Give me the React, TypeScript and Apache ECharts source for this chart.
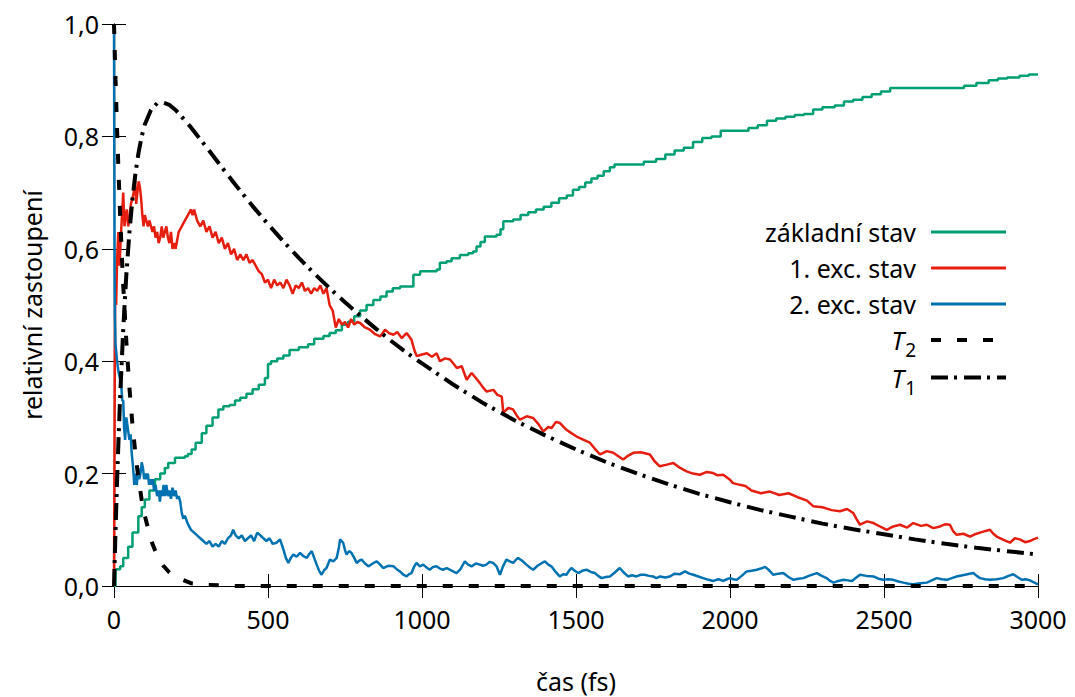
import React, { useEffect, useRef } from 'react';
import * as echarts from 'echarts';

const FONT = "'Noto Sans', 'Open Sans', sans-serif";

const xTicks = { min: 0, max: 3000, interval: 500 };
const yTicks = { min: 0, max: 1, interval: 0.2 };

const seriesNames = ['základní stav', '1. exc. stav', '2. exc. stav', 'T2', 'T1'];
const seriesColors = ['#009e73', '#e51e10', '#0072b2', '#000000', '#000000'];

const groundState: number[][] = [
  [0, 0], [5, 0.03], [20, 0.035], [30, 0.05], [46, 0.07], [60, 0.095], [79, 0.124], [90, 0.14],
  [100, 0.154], [115, 0.17], [133, 0.19], [150, 0.2], [165, 0.21], [176, 0.219], [198, 0.228],
  [215, 0.228], [230, 0.231], [240, 0.235], [252, 0.243], [265, 0.255], [285, 0.272], [300, 0.285],
  [320, 0.3], [339, 0.314], [355, 0.32], [375, 0.322], [393, 0.33], [410, 0.335], [430, 0.342],
  [450, 0.35], [470, 0.358], [490, 0.37], [500, 0.395], [510, 0.4], [530, 0.405], [550, 0.41],
  [570, 0.42], [600, 0.425], [630, 0.43], [650, 0.44], [680, 0.445], [700, 0.45], [720, 0.455],
  [740, 0.465], [760, 0.47], [780, 0.48], [799, 0.49], [820, 0.5], [842, 0.509], [865, 0.515],
  [885, 0.524], [905, 0.53], [929, 0.533], [961, 0.533], [972, 0.554], [994, 0.56], [1048, 0.563],
  [1058, 0.575], [1080, 0.578], [1096, 0.583], [1123, 0.589], [1150, 0.592], [1166, 0.595],
  [1177, 0.604], [1190, 0.612], [1204, 0.622], [1242, 0.625], [1255, 0.635], [1264, 0.649],
  [1296, 0.652], [1320, 0.66], [1345, 0.665], [1370, 0.67], [1395, 0.675], [1420, 0.682],
  [1445, 0.69], [1470, 0.695], [1490, 0.705], [1510, 0.71], [1530, 0.718], [1550, 0.725],
  [1570, 0.73], [1590, 0.738], [1610, 0.745], [1625, 0.75], [1700, 0.75], [1720, 0.755],
  [1760, 0.76], [1790, 0.768], [1820, 0.775], [1850, 0.78], [1880, 0.79], [1910, 0.797],
  [1940, 0.8], [1970, 0.81], [2040, 0.81], [2060, 0.815], [2090, 0.82], [2120, 0.828],
  [2150, 0.832], [2180, 0.835], [2210, 0.838], [2240, 0.84], [2270, 0.848], [2300, 0.852],
  [2340, 0.855], [2370, 0.862], [2400, 0.865], [2430, 0.87], [2460, 0.875], [2490, 0.88],
  [2520, 0.886], [2750, 0.886], [2760, 0.89], [2800, 0.895], [2840, 0.9], [2870, 0.903],
  [2900, 0.905], [2940, 0.908], [2970, 0.91], [3000, 0.91],
];

const firstExcited: number[][] = [
  [0, 0], [2, 0.3], [4, 0.55], [7, 0.5], [10, 0.58], [14, 0.63], [18, 0.57], [22, 0.62], [26, 0.66],
  [30, 0.7], [34, 0.64], [38, 0.66], [42, 0.67], [46, 0.64], [50, 0.65], [55, 0.68], [60, 0.69],
  [64, 0.7], [68, 0.73], [72, 0.68], [76, 0.7], [80, 0.72], [84, 0.71], [88, 0.69], [92, 0.66],
  [96, 0.64], [100, 0.66], [105, 0.65], [110, 0.64], [115, 0.65], [120, 0.64], [125, 0.63],
  [130, 0.64], [135, 0.62], [140, 0.63], [145, 0.61], [150, 0.62], [155, 0.64], [160, 0.62],
  [165, 0.63], [170, 0.64], [175, 0.62], [180, 0.61], [185, 0.63], [190, 0.6], [195, 0.61],
  [200, 0.6], [210, 0.63], [220, 0.64], [230, 0.65], [240, 0.66], [250, 0.67], [255, 0.66],
  [260, 0.67], [270, 0.65], [280, 0.64], [290, 0.65], [300, 0.63], [310, 0.64], [320, 0.62],
  [330, 0.63], [340, 0.61], [350, 0.62], [360, 0.6], [370, 0.61], [380, 0.59], [390, 0.6],
  [400, 0.58], [410, 0.59], [420, 0.58], [430, 0.59], [440, 0.575], [450, 0.58], [460, 0.57],
  [470, 0.56], [480, 0.555], [490, 0.54], [500, 0.545], [510, 0.53], [520, 0.545], [530, 0.535],
  [540, 0.54], [550, 0.53], [560, 0.545], [570, 0.535], [580, 0.52], [590, 0.535], [600, 0.53],
  [610, 0.54], [620, 0.525], [630, 0.53], [640, 0.52], [650, 0.53], [660, 0.525], [670, 0.535],
  [680, 0.52], [690, 0.53], [700, 0.5], [710, 0.49], [720, 0.46], [730, 0.475], [740, 0.465],
  [750, 0.47], [760, 0.46], [770, 0.475], [780, 0.465], [790, 0.47], [799, 0.468], [815, 0.46],
  [831, 0.456], [848, 0.448], [864, 0.444], [880, 0.456], [893, 0.45], [907, 0.447], [920, 0.452],
  [934, 0.441], [950, 0.45], [966, 0.438], [975, 0.42], [983, 0.409], [1000, 0.412], [1016, 0.414],
  [1032, 0.408], [1048, 0.414], [1058, 0.4], [1075, 0.405], [1091, 0.403], [1103, 0.395],
  [1113, 0.388], [1129, 0.391], [1145, 0.367], [1161, 0.379], [1175, 0.37], [1188, 0.361],
  [1200, 0.352], [1210, 0.346], [1232, 0.349], [1245, 0.34], [1259, 0.337], [1264, 0.308],
  [1280, 0.317], [1296, 0.314], [1308, 0.303], [1318, 0.296], [1340, 0.302], [1361, 0.299],
  [1378, 0.288], [1394, 0.275], [1410, 0.283], [1421, 0.281], [1435, 0.292], [1448, 0.29],
  [1469, 0.278], [1485, 0.272], [1502, 0.266], [1525, 0.26], [1545, 0.255], [1560, 0.245],
  [1578, 0.234], [1600, 0.24], [1621, 0.237], [1640, 0.23], [1653, 0.225], [1670, 0.232],
  [1686, 0.237], [1710, 0.238], [1740, 0.234], [1755, 0.222], [1772, 0.213], [1795, 0.216],
  [1816, 0.219], [1838, 0.21], [1859, 0.204], [1880, 0.2], [1902, 0.198], [1925, 0.203],
  [1945, 0.201], [1960, 0.197], [1978, 0.198], [2000, 0.189], [2010, 0.183], [2032, 0.18],
  [2050, 0.178], [2070, 0.17], [2100, 0.165], [2130, 0.168], [2160, 0.162], [2190, 0.165],
  [2220, 0.158], [2250, 0.152], [2270, 0.142], [2300, 0.14], [2330, 0.135], [2357, 0.133],
  [2380, 0.137], [2400, 0.13], [2410, 0.12], [2422, 0.109], [2445, 0.115], [2466, 0.112],
  [2490, 0.105], [2509, 0.1], [2530, 0.106], [2552, 0.109], [2575, 0.104], [2595, 0.112],
  [2620, 0.107], [2639, 0.109], [2660, 0.103], [2682, 0.106], [2700, 0.11], [2714, 0.109],
  [2725, 0.097], [2736, 0.091], [2758, 0.093], [2779, 0.088], [2795, 0.092], [2812, 0.095],
  [2830, 0.098], [2844, 0.1], [2855, 0.093], [2866, 0.088], [2888, 0.082], [2909, 0.077],
  [2925, 0.085], [2941, 0.083], [2958, 0.078], [2974, 0.08], [2985, 0.083], [3000, 0.086],
];

const secondExcited: number[][] = [
  [0, 1.0], [1, 0.75], [2, 0.55], [3, 0.48], [5, 0.43], [10, 0.4], [15, 0.38], [19, 0.37], [23, 0.36],
  [27, 0.33], [30, 0.33], [33, 0.28], [36, 0.26], [40, 0.3], [45, 0.28], [50, 0.26], [54, 0.27],
  [57, 0.24], [62, 0.21], [66, 0.18], [70, 0.2], [74, 0.18], [78, 0.21], [82, 0.19], [86, 0.2],
  [90, 0.22], [94, 0.21], [98, 0.19], [102, 0.2], [106, 0.19], [110, 0.2], [114, 0.18], [118, 0.19],
  [122, 0.18], [126, 0.19], [130, 0.17], [135, 0.18], [140, 0.16], [145, 0.17], [149, 0.15],
  [153, 0.17], [157, 0.16], [161, 0.18], [165, 0.16], [170, 0.18], [175, 0.16], [180, 0.17],
  [185, 0.155], [190, 0.175], [195, 0.16], [200, 0.17], [205, 0.155], [210, 0.16], [215, 0.15],
  [220, 0.13], [225, 0.12], [230, 0.125], [240, 0.11], [250, 0.1], [260, 0.095], [270, 0.09],
  [280, 0.085], [290, 0.08], [300, 0.075], [310, 0.08], [320, 0.07], [330, 0.075], [340, 0.07],
  [350, 0.08], [360, 0.075], [370, 0.085], [380, 0.09], [387, 0.1], [395, 0.09], [405, 0.085],
  [415, 0.09], [425, 0.08], [435, 0.085], [445, 0.09], [455, 0.08], [465, 0.095], [475, 0.09],
  [485, 0.085], [495, 0.08], [505, 0.085], [515, 0.075], [528, 0.077], [539, 0.083], [550, 0.065],
  [558, 0.05], [566, 0.041], [574, 0.05], [582, 0.056], [593, 0.052], [604, 0.059], [615, 0.053],
  [626, 0.05], [634, 0.057], [642, 0.062], [650, 0.05], [658, 0.038], [666, 0.027], [674, 0.02],
  [682, 0.028], [690, 0.032], [701, 0.047], [712, 0.044], [723, 0.05], [730, 0.068], [734, 0.083],
  [744, 0.077], [750, 0.064], [755, 0.056], [763, 0.062], [771, 0.059], [780, 0.05], [788, 0.041],
  [796, 0.045], [804, 0.047], [815, 0.04], [826, 0.035], [840, 0.04], [853, 0.044], [864, 0.038],
  [874, 0.032], [890, 0.036], [907, 0.035], [918, 0.03], [928, 0.026], [940, 0.02], [950, 0.017],
  [958, 0.021], [966, 0.023], [975, 0.035], [982, 0.041], [993, 0.035], [1004, 0.038],
  [1015, 0.033], [1025, 0.029], [1036, 0.034], [1047, 0.035], [1058, 0.031], [1069, 0.029],
  [1080, 0.032], [1090, 0.029], [1101, 0.026], [1112, 0.023], [1125, 0.03], [1139, 0.044],
  [1150, 0.038], [1161, 0.035], [1175, 0.04], [1188, 0.038], [1198, 0.036], [1209, 0.038],
  [1220, 0.043], [1231, 0.041], [1242, 0.035], [1253, 0.02], [1263, 0.035], [1274, 0.047],
  [1285, 0.044], [1296, 0.041], [1304, 0.046], [1312, 0.05], [1325, 0.045], [1339, 0.038],
  [1350, 0.033], [1361, 0.029], [1375, 0.036], [1387, 0.04], [1399, 0.044], [1410, 0.038],
  [1420, 0.035], [1434, 0.025], [1447, 0.017], [1458, 0.021], [1469, 0.02], [1477, 0.027],
  [1485, 0.032], [1496, 0.027], [1507, 0.023], [1520, 0.027], [1534, 0.029], [1548, 0.025],
  [1561, 0.023], [1572, 0.018], [1583, 0.014], [1597, 0.016], [1610, 0.017], [1626, 0.024],
  [1642, 0.032], [1655, 0.024], [1669, 0.017], [1682, 0.019], [1696, 0.017], [1710, 0.02],
  [1723, 0.02], [1737, 0.018], [1750, 0.017], [1761, 0.014], [1773, 0.017], [1790, 0.015],
  [1805, 0.017], [1820, 0.022], [1838, 0.021], [1854, 0.026], [1868, 0.022], [1881, 0.02],
  [1897, 0.017], [1913, 0.014], [1930, 0.011], [1946, 0.009], [1962, 0.012], [1978, 0.009],
  [1990, 0.012], [2000, 0.014], [2011, 0.012], [2022, 0.011], [2038, 0.018], [2054, 0.026],
  [2070, 0.027], [2087, 0.029], [2100, 0.031], [2114, 0.034], [2127, 0.028], [2141, 0.02],
  [2157, 0.022], [2173, 0.023], [2190, 0.016], [2206, 0.011], [2222, 0.013], [2238, 0.014],
  [2260, 0.019], [2282, 0.023], [2298, 0.018], [2314, 0.014], [2325, 0.009], [2336, 0.006],
  [2352, 0.009], [2368, 0.011], [2382, 0.01], [2396, 0.009], [2410, 0.015], [2422, 0.02],
  [2444, 0.018], [2466, 0.017], [2482, 0.013], [2498, 0.011], [2514, 0.012], [2530, 0.011],
  [2547, 0.008], [2563, 0.006], [2580, 0.004], [2595, 0.003], [2617, 0.005], [2639, 0.006],
  [2655, 0.01], [2671, 0.014], [2688, 0.012], [2704, 0.011], [2720, 0.014], [2736, 0.017],
  [2763, 0.02], [2790, 0.023], [2801, 0.018], [2812, 0.014], [2828, 0.012], [2844, 0.011],
  [2866, 0.012], [2887, 0.014], [2904, 0.018], [2920, 0.021], [2933, 0.016], [2947, 0.011],
  [2960, 0.012], [2974, 0.01], [2985, 0.007], [3000, 0.003],
];

const fitT2: number[][] = [
  [0, 1.0], [5, 0.901], [10, 0.812], [15, 0.732], [20, 0.659], [25, 0.594], [30, 0.535], [40, 0.435],
  [50, 0.353], [60, 0.287], [70, 0.233], [80, 0.189], [90, 0.153], [100, 0.125], [120, 0.082],
  [140, 0.054], [160, 0.036], [180, 0.024], [200, 0.016], [250, 0.005], [300, 0.002], [350, 0.001],
  [400, 0], [3000, 0],
];

const fitT1: number[][] = [
  [0, 0], [5, 0.099], [10, 0.187], [15, 0.266], [20, 0.337], [30, 0.457], [40, 0.553], [50, 0.629],
  [60, 0.689], [70, 0.736], [80, 0.772], [90, 0.8], [100, 0.821], [120, 0.847], [140, 0.859],
  [160, 0.86], [180, 0.856], [200, 0.847], [250, 0.816], [300, 0.781], [350, 0.745], [400, 0.71],
  [450, 0.676], [500, 0.644], [550, 0.613], [600, 0.584], [650, 0.556], [700, 0.53], [750, 0.505],
  [800, 0.481], [850, 0.458], [900, 0.436], [950, 0.415], [1000, 0.396], [1100, 0.359],
  [1200, 0.325], [1300, 0.295], [1400, 0.268], [1500, 0.243], [1600, 0.22], [1700, 0.2],
  [1800, 0.181], [1900, 0.164], [2000, 0.149], [2100, 0.135], [2200, 0.123], [2300, 0.111],
  [2400, 0.101], [2500, 0.092], [2600, 0.083], [2700, 0.075], [2800, 0.068], [2900, 0.062],
  [3000, 0.056],
];

const xName = 'čas (fs)';
const yName = 'relativní zastoupení';

export default function App() {
  const ref = useRef<HTMLDivElement>(null);
  useEffect(() => {
    const chart = echarts.init(ref.current!, undefined, { renderer: 'svg' });
    const tickStyle = { inside: true, length: 12, lineStyle: { color: '#000', width: 1 } };
    const axisLine = { show: true, lineStyle: { color: '#000', width: 1.2 } };
    const labelStyle = { color: '#000', fontSize: 25, fontFamily: FONT };
    const legendLine = [
      { color: seriesColors[0], width: 3, type: 'solid' },
      { color: seriesColors[1], width: 3, type: 'solid' },
      { color: seriesColors[2], width: 3, type: 'solid' },
      { color: '#000', width: 4, type: [10, 16], cap: 'butt' },
      { color: '#000', width: 4, type: [17, 6, 3, 7], cap: 'butt' },
    ];
    const option: any = {
      animation: false,
      backgroundColor: '#fff',
      grid: { left: 114, right: 37, top: 24, bottom: 111, containLabel: false, outerBoundsMode: 'none' },
      xAxis: [
        {
          type: 'value', position: 'bottom', ...xTicks,
          axisLine, axisTick: tickStyle, splitLine: { show: false },
          axisLabel: { ...labelStyle, margin: 20, formatter: (v: number) => String(v) },
          name: xName, nameLocation: 'middle', nameGap: 82,
          nameTextStyle: { color: '#000', fontSize: 25, fontFamily: FONT },
        },
        {
          type: 'value', position: 'top', ...xTicks,
          axisLine, axisTick: tickStyle, splitLine: { show: false },
          axisLabel: { show: false },
        },
      ],
      yAxis: [
        {
          type: 'value', position: 'left', ...yTicks,
          axisLine, axisTick: tickStyle, splitLine: { show: false },
          axisLabel: { ...labelStyle, margin: 15, formatter: (v: number) => v.toFixed(1).replace('.', ',') },
          name: yName, nameLocation: 'middle', nameGap: 70, nameRotate: 90,
          nameTextStyle: { color: '#000', fontSize: 25, fontFamily: FONT },
        },
        {
          type: 'value', position: 'right', ...yTicks,
          axisLine, axisTick: tickStyle, splitLine: { show: false },
          axisLabel: { show: false },
        },
      ],
      legend: {
        orient: 'vertical',
        right: 62,
        top: 209,
        align: 'right',
        itemWidth: 75,
        itemHeight: 14,
        itemGap: 0,
        itemStyle: { opacity: 0 },
        data: seriesNames.map((n, i) => ({ name: n, lineStyle: legendLine[i] })),
        formatter: (name: string) => {
          if (name === 'T2') return '{i|T}{s|2}';
          if (name === 'T1') return '{i|T}{s|1}';
          return name;
        },
        textStyle: {
          color: '#000', fontSize: 25, fontFamily: FONT, width: 180, align: 'right',
          lineHeight: 36, padding: [0, 10, 0, 0],
          rich: {
            i: { fontStyle: 'italic', fontSize: 25, fontFamily: FONT, color: '#000', lineHeight: 36 },
            s: { fontSize: 19, fontFamily: FONT, color: '#000', padding: [20, 0, 0, 1] },
          },
        },
      },
      series: [
        {
          name: seriesNames[0], type: 'line', data: groundState, step: 'end', showSymbol: false, symbol: 'none',
          lineStyle: { color: seriesColors[0], width: 2.5 }, itemStyle: { color: seriesColors[0] },
        },
        {
          name: seriesNames[1], type: 'line', data: firstExcited, showSymbol: false, symbol: 'none',
          lineStyle: { color: seriesColors[1], width: 2.5 }, itemStyle: { color: seriesColors[1] },
        },
        {
          name: seriesNames[2], type: 'line', data: secondExcited, showSymbol: false, symbol: 'none',
          lineStyle: { color: seriesColors[2], width: 2.5 }, itemStyle: { color: seriesColors[2] },
        },
        {
          name: seriesNames[3], type: 'line', data: fitT2, showSymbol: false, symbol: 'none',
          lineStyle: { color: seriesColors[3], width: 4, type: [10, 16], cap: 'butt' }, itemStyle: { color: '#000' },
        },
        {
          name: seriesNames[4], type: 'line', data: fitT1, showSymbol: false, symbol: 'none',
          lineStyle: { color: seriesColors[4], width: 4, type: [17, 6, 3, 7], cap: 'butt' }, itemStyle: { color: '#000' },
        },
      ],
    };
    chart.setOption(option);
    return () => chart.dispose();
  }, []);
  return <div ref={ref} style={{ position: 'fixed', left: 0, top: 0, width: 1075, height: 697 }} />;
}
